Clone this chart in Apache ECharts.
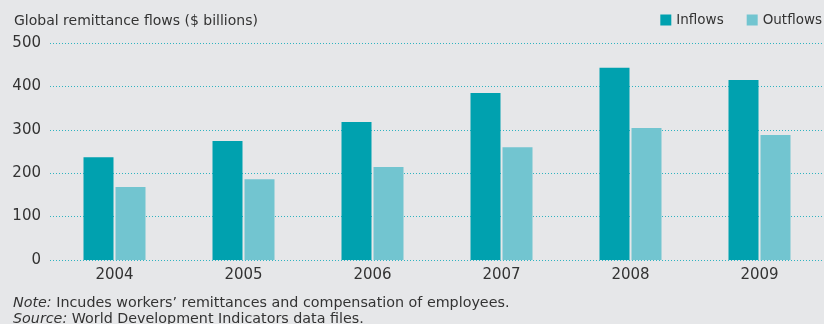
<!DOCTYPE html>
<html>
<head>
<meta charset="utf-8">
<script src="https://cdn.jsdelivr.net/npm/echarts@6/dist/echarts.min.js"></script>
<style>
  html, body { margin: 0; padding: 0; background: #e6e7e9; }
  #chart { width: 824px; height: 324px; }
</style>
</head>
<body>
<div id="chart"></div>
<script>
// Global remittance flows, $ billions
const years = ['2004', '2005', '2006', '2007', '2008', '2009'];
const inflows = [237, 274, 318, 385, 443, 415];
const outflows = [168, 186, 214, 260, 304, 288];
const yTicks = [0, 100, 200, 300, 400, 500];

const FONT = '"DejaVu Sans", "Liberation Sans", sans-serif';
const TEXT = '#333333';

const chart = echarts.init(document.getElementById('chart'), null, { renderer: 'canvas' });

chart.setOption({
  backgroundColor: '#e6e7e9',
  animation: false,
  title: [
    {
      text: 'Global remittance flows ($ billions)',
      left: 9,
      top: 9,
      textStyle: { fontFamily: FONT, fontSize: 14, fontWeight: 'normal', color: TEXT }
    },
    {
      text: '{i|Note:} Incudes workers\u2019 remittances and compensation of employees.\n{i|Source:} World Development Indicators data files.',
      left: 8,
      top: 290,
      textStyle: {
        fontFamily: FONT, fontSize: 14.3, fontWeight: 'normal', color: TEXT, lineHeight: 16,
        rich: { i: { fontFamily: FONT, fontSize: 14.3, fontStyle: 'italic', color: TEXT, lineHeight: 16 } }
      }
    }
  ],
  legend: {
    right: 2,
    top: 13,
    padding: 0,
    itemWidth: 11,
    itemHeight: 11,
    itemGap: 23,
    icon: 'rect',
    textStyle: { fontFamily: FONT, fontSize: 13.5, color: TEXT },
    data: ['Inflows', 'Outflows']
  },
  grid: { left: 50, right: 0, top: 43, bottom: 64, containLabel: false },
  xAxis: {
    type: 'category',
    data: years,
    axisLine: { show: false },
    axisTick: { show: false },
    axisLabel: { fontFamily: FONT, fontSize: 15, color: TEXT, margin: 8 }
  },
  yAxis: {
    type: 'value',
    min: yTicks[0],
    max: yTicks[yTicks.length - 1],
    interval: 100,
    axisLine: { show: false },
    axisTick: { show: false },
    axisLabel: { fontFamily: FONT, fontSize: 15, color: TEXT, margin: 9 },
    splitLine: { show: true, lineStyle: { color: '#2fb3c0', width: 1, type: [1, 2] } }
  },
  series: [
    {
      name: 'Inflows',
      type: 'bar',
      data: inflows,
      barWidth: 30,
      barGap: '6.67%',
      itemStyle: { color: '#00a1af' }
    },
    {
      name: 'Outflows',
      type: 'bar',
      data: outflows,
      barWidth: 30,
      itemStyle: { color: '#72c5d0' }
    }
  ]
});
</script>
</body>
</html>
